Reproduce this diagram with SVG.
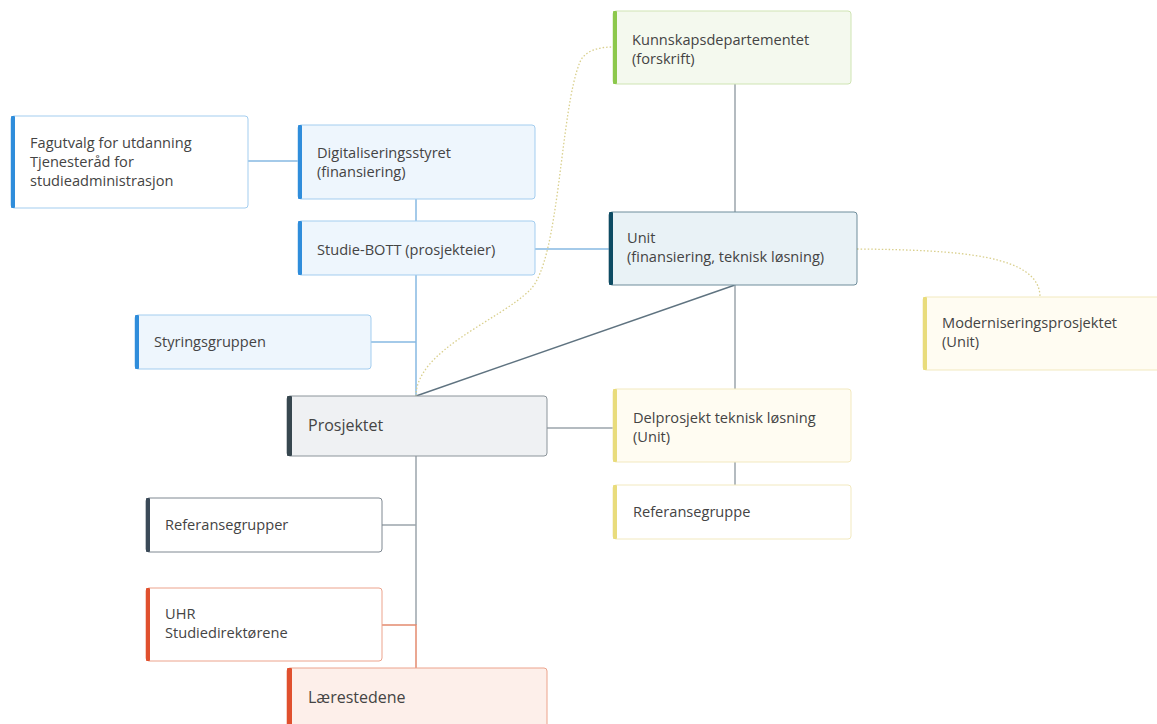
<svg xmlns="http://www.w3.org/2000/svg" width="1157" height="724" viewBox="0 0 1157 724">
<style>
text{font-family:"Open Sans","DejaVu Sans",sans-serif;font-size:14.6px;fill:#444444}
.big{font-size:16px}
.c{fill:none;stroke-width:1.5}
.cb{stroke:#86b9e2}
.cg{stroke:#9ba4ab}
.cr{stroke:#e38a6f}
.cd{stroke:#d9cf8c;stroke-dasharray:1.5 2;stroke-width:1.3}
.blue rect.b{fill:#eef6fd;stroke:#a3cdef}
.blue rect.bar{fill:#2f8ddb}
.bluew rect.b{fill:#ffffff;stroke:#a3cdef}
.bluew rect.bar{fill:#2f8ddb}
.green rect.b{fill:#f4f9ee;stroke:#cfe4b3}
.green rect.bar{fill:#8cc84b}
.unit rect.b{fill:#e9f2f6;stroke:#6f8d9b}
.unit rect.bar{fill:#0d4b63}
.proj rect.b{fill:#eff1f3;stroke:#8b949a}
.proj rect.bar{fill:#37474f}
.projw rect.b{fill:#ffffff;stroke:#7e8891}
.projw rect.bar{fill:#3b4a58}
.yel rect.b{fill:#fffcf2;stroke:#f2e9bf}
.yel rect.bar{fill:#e9dc7c}
.yelw rect.b{fill:#ffffff;stroke:#f2e9bf}
.yelw rect.bar{fill:#e9dc7c}
.red rect.b{fill:#fdefea;stroke:#eca38c}
.red rect.bar{fill:#e0502e}
.redw rect.b{fill:#ffffff;stroke:#eca38c}
.redw rect.bar{fill:#e0502e}
</style>
<rect width="1157" height="724" fill="#ffffff"/>
<g id="connectors">
  <path class="c cb" d="M248,161 H298"/>
  <path class="c cb" d="M416,199 V221"/>
  <path class="c cb" d="M535,249 H609"/>
  <path class="c cb" d="M416,275 V396"/>
  <path class="c cb" d="M371,342 H416"/>
  <path class="c cg" d="M735,84 V212"/>
  <path class="c" stroke="#5f7380" d="M735,285 L416,396"/>
  <path class="c cg" d="M735,285 V389"/>
  <path class="c cg" d="M547,428 H613"/>
  <path class="c cg" d="M735,462 V485"/>
  <path class="c cg" d="M416,456 V625"/>
  <path class="c cg" d="M382,525 H416"/>
  <path class="c cr" d="M382,625 H416 V668"/>
  <path class="c cd" d="M416,396 C416,350 500,320 530,290 C560,260 560,110 580,62 C585,50 600,47 613,47"/>
  <path class="c cd" d="M857,249 C960,250 1040,255 1040,297"/>
</g>
<g id="kunnskapsdepartementet" class="green">
  <rect class="b" x="613" y="11" width="238" height="73" rx="3"/>
  <rect class="bar" x="613" y="11" width="4" height="73" rx="1"/>
  <text x="632" y="45">Kunnskapsdepartementet</text>
  <text x="632" y="64">(forskrift)</text>
</g>
<g id="unit" class="unit">
  <rect class="b" x="609" y="212" width="248" height="73" rx="3"/>
  <rect class="bar" x="609" y="212" width="4" height="73" rx="1"/>
  <text x="627" y="243">Unit</text>
  <text x="627" y="262">(finansiering, teknisk løsning)</text>
</g>
<g id="fagutvalg" class="bluew">
  <rect class="b" x="11" y="116" width="237" height="92" rx="3"/>
  <rect class="bar" x="11" y="116" width="4" height="92" rx="1"/>
  <text x="30" y="148">Fagutvalg for utdanning</text>
  <text x="30" y="167">Tjenesteråd for</text>
  <text x="30" y="186">studieadministrasjon</text>
</g>
<g id="digitaliseringsstyret" class="blue">
  <rect class="b" x="298" y="125" width="237" height="74" rx="3"/>
  <rect class="bar" x="298" y="125" width="4" height="74" rx="1"/>
  <text x="317" y="158">Digitaliseringsstyret</text>
  <text x="317" y="177">(finansiering)</text>
</g>
<g id="studie-bott" class="blue">
  <rect class="b" x="298" y="221" width="237" height="54" rx="3"/>
  <rect class="bar" x="298" y="221" width="4" height="54" rx="1"/>
  <text x="317" y="255">Studie-BOTT (prosjekteier)</text>
</g>
<g id="styringsgruppen" class="blue">
  <rect class="b" x="135" y="315" width="236" height="54" rx="3"/>
  <rect class="bar" x="135" y="315" width="4" height="54" rx="1"/>
  <text x="154" y="347">Styringsgruppen</text>
</g>
<g id="prosjektet" class="proj">
  <rect class="b" x="287" y="396" width="260" height="60" rx="3"/>
  <rect class="bar" x="287" y="396" width="5" height="60" rx="1"/>
  <text class="big" x="308" y="431">Prosjektet</text>
</g>
<g id="modernisering" class="yel">
  <rect class="b" x="923" y="297" width="240" height="73" rx="3"/>
  <rect class="bar" x="923" y="297" width="4" height="73" rx="1"/>
  <text x="942" y="328">Moderniseringsprosjektet</text>
  <text x="942" y="347">(Unit)</text>
</g>
<g id="delprosjekt" class="yel">
  <rect class="b" x="613" y="389" width="238" height="73" rx="3"/>
  <rect class="bar" x="613" y="389" width="4" height="73" rx="1"/>
  <text x="633" y="423">Delprosjekt teknisk løsning</text>
  <text x="633" y="442">(Unit)</text>
</g>
<g id="referansegruppe" class="yelw">
  <rect class="b" x="613" y="485" width="238" height="54" rx="3"/>
  <rect class="bar" x="613" y="485" width="4" height="54" rx="1"/>
  <text x="633" y="517">Referansegruppe</text>
</g>
<g id="referansegrupper" class="projw">
  <rect class="b" x="146" y="498" width="236" height="54" rx="3"/>
  <rect class="bar" x="146" y="498" width="4" height="54" rx="1"/>
  <text x="165" y="530">Referansegrupper</text>
</g>
<g id="uhr" class="redw">
  <rect class="b" x="146" y="588" width="236" height="73" rx="3"/>
  <rect class="bar" x="146" y="588" width="4" height="73" rx="1"/>
  <text x="165" y="619">UHR</text>
  <text x="165" y="638">Studiedirektørene</text>
</g>
<g id="laerestedene" class="red">
  <rect class="b" x="287" y="668" width="260" height="70" rx="3"/>
  <rect class="bar" x="287" y="668" width="5" height="70" rx="1"/>
  <text class="big" x="308" y="703">Lærestedene</text>
</g>
</svg>
